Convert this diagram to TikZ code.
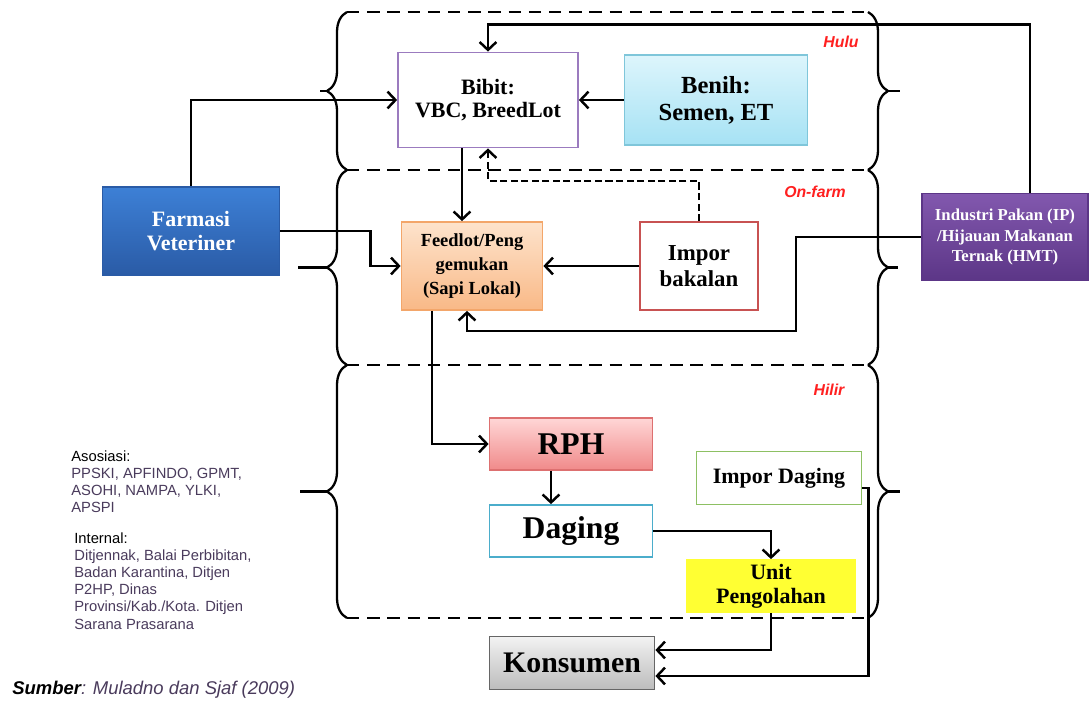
\documentclass[tikz,border=0pt]{standalone}
\usepackage{fontspec}
\setmainfont{Liberation Serif}
\setsansfont{Liberation Sans}
\usetikzlibrary{arrows.meta,decorations.pathreplacing}

\definecolor{bibitline}{HTML}{9B7BBF}
\definecolor{benihtop}{HTML}{DDF5FC}
\definecolor{benihbot}{HTML}{A6E2F4}
\definecolor{benihline}{HTML}{7FC6DA}
\definecolor{farmtop}{HTML}{3D80D6}
\definecolor{farmbot}{HTML}{2A5BA6}
\definecolor{feedtop}{HTML}{FDE3CC}
\definecolor{feedbot}{HTML}{F9B987}
\definecolor{feedline}{HTML}{F3A66A}
\definecolor{imporline}{HTML}{C85252}
\definecolor{indtop}{HTML}{8258AE}
\definecolor{indbot}{HTML}{5C3687}
\definecolor{rphtop}{HTML}{FFD6D6}
\definecolor{rphbot}{HTML}{F08A8A}
\definecolor{rphline}{HTML}{DD7070}
\definecolor{dagingline}{HTML}{4BADCB}
\definecolor{impdline}{HTML}{8DC063}
\definecolor{unitfill}{HTML}{FFFF33}
\definecolor{konstop}{HTML}{F2F2F2}
\definecolor{konsbot}{HTML}{BDBDBD}
\definecolor{zonered}{HTML}{FF2020}
\definecolor{listtext}{HTML}{4A3B5C}

\begin{document}
\begin{tikzpicture}[x=0.02cm,y=-0.02cm,
    box/.style={draw,line width=1pt,align=center,inner sep=2pt},
    arr/.style={line width=1.4pt,-{Straight Barb[length=4.5pt,width=9.5pt]}},
    darr/.style={arr,dash pattern=on 4pt off 2pt},
    frame/.style={line width=1.2pt,dash pattern=on 7pt off 4.5pt},
    bracel/.style={line width=1.3pt,decorate,decoration={brace,amplitude=0.4cm}},
    zone/.style={font=\sffamily\bfseries\itshape\fontsize{9}{10}\selectfont,text=zonered}]

  \path[fill=white,use as bounding box] (0,0) rectangle (1089,702);

  % zones
  \draw[frame] (347,12) -- (868,12);
  \draw[frame] (347,170) -- (868,170);
  \draw[frame] (347,365) -- (868,365);
  \draw[frame] (347,618) -- (868,618);
  \draw[bracel] (347,170) -- (347,12);
  \draw[bracel] (347,365) -- (347,170);
  \draw[bracel] (347,618) -- (347,365);
  \draw[bracel] (868,12) -- (868,170);
  \draw[bracel] (868,170) -- (868,365);
  \draw[bracel] (868,365) -- (868,618);
  \draw[line width=1.3pt] (327,91) -- (320,91) (327,267.5) -- (298,267.5) (327,491.5) -- (300,491.5);
  \draw[line width=1.3pt] (888,91) -- (900,91) (888,267.5) -- (898,267.5) (888,491.5) -- (900,491.5);
  \node[zone] (hulu) at (841,42) {Hulu};
  \node[zone] (onfarm) at (815,192) {On-farm};
  \node[zone] (hilir) at (829,390) {Hilir};

  % boxes
  \node[box,draw=bibitline,fill=white,minimum width=3.6cm,minimum height=1.9cm,
        font=\fontsize{12.5}{13.5}\selectfont\bfseries] (bibit) at (488,100) {Bibit:\\VBC, BreedLot};
  \node[box,draw=benihline,top color=benihtop,bottom color=benihbot,minimum width=3.66cm,minimum height=1.8cm,
        font=\fontsize{14}{15.5}\selectfont\bfseries] (benih) at (716,100) {Benih:\\Semen, ET};
  \node[box,draw=farmbot,top color=farmtop,bottom color=farmbot,text=white,minimum width=3.54cm,minimum height=1.76cm,
        font=\fontsize{12.5}{14}\selectfont\bfseries] (farmasi) at (191,231) {Farmasi\\Veteriner};
  \node[box,draw=feedline,top color=feedtop,bottom color=feedbot,minimum width=2.82cm,minimum height=1.76cm,
        font=\fontsize{10.5}{13.5}\selectfont\bfseries] (feedlot) at (472,266) {Feedlot/Peng\\gemukan\\(Sapi Lokal)};
  \node[box,draw=imporline,fill=white,minimum width=2.36cm,minimum height=1.76cm,
        font=\fontsize{13}{14.5}\selectfont\bfseries] (impor) at (699,266) {Impor\\bakalan};
  \node[box,draw=indbot,top color=indtop,bottom color=indbot,text=white,minimum width=3.32cm,minimum height=1.74cm,
        font=\fontsize{9.5}{11.5}\selectfont\bfseries] (industri) at (1005,237) {Industri Pakan (IP)\\/Hijauan Makanan\\Ternak (HMT)};
  \node[box,draw=rphline,top color=rphtop,bottom color=rphbot,minimum width=3.26cm,minimum height=1.04cm,
        font=\fontsize{18}{20}\selectfont\bfseries] (rph) at (571,444) {RPH};
  \node[box,draw=dagingline,fill=white,minimum width=3.26cm,minimum height=1.04cm,
        font=\fontsize{18}{20}\selectfont\bfseries] (daging) at (571,531) {Daging};
  \node[box,draw=impdline,fill=white,minimum width=3.3cm,minimum height=1.06cm,
        font=\fontsize{12.5}{14}\selectfont\bfseries] (impordaging) at (779,478) {Impor Daging};
  \node[box,draw=unitfill,fill=unitfill,minimum width=3.36cm,minimum height=1.04cm,
        font=\fontsize{12.5}{13.5}\selectfont\bfseries] (unit) at (771,586) {Unit\\Pengolahan};
  \node[box,draw=gray!80!black,top color=konstop,bottom color=konsbot,minimum width=3.3cm,minimum height=1.06cm,
        font=\fontsize{17}{19}\selectfont\bfseries] (konsumen) at (572,663) {Konsumen};

  % connectors
  \draw[arr] (farmasi.north) |- (bibit.west);
  \draw[arr] (farmasi.east) -- ++(90,0) |- (feedlot.west);
  \draw[arr] (benih.west) -- (bibit.east);
  \draw[arr] ([xshift=-0.52cm]bibit.south) -- ([xshift=-0.52cm]bibit.south |- feedlot.north);
  \draw[darr] (impor.north) -- ++(0,-40) -| (bibit.south);
  \draw[arr] (impor.west) -- (feedlot.east);
  \draw[arr] (industri.west) -- ++(-125,0) -- ++(0,94) -| ([xshift=-0.1cm]feedlot.south);
  \draw[arr] ([xshift=0.5cm]industri.north) -- ++(0,-168) -| (bibit.north);
  \draw[arr] ([xshift=-0.8cm]feedlot.south) |- (rph.west);
  \draw[arr] ([xshift=-0.4cm]rph.south) -- ([xshift=-0.4cm]daging.north);
  \draw[arr] (daging.east) -| (unit.north);
  \draw[arr] (unit.south) |- ([yshift=0.26cm]konsumen.east);
  \draw[arr] ([yshift=-0.2cm]impordaging.east) -- ++(6,0) |- ([yshift=-0.26cm]konsumen.east);

  % notes
  \node[anchor=north west,align=left,inner sep=0pt,text=listtext,
        font=\sffamily\fontsize{8.4}{9.8}\selectfont] (asosiasi) at (71,450)
        {\textcolor{black}{Asosiasi:}\\PPSKI, APFINDO, GPMT,\\ASOHI, NAMPA, YLKI,\\APSPI};
  \node[anchor=north west,align=left,inner sep=0pt,text=listtext,
        font=\sffamily\fontsize{8.4}{9.8}\selectfont] (internal) at (74,532)
        {\textcolor{black}{Internal:}\\Ditjennak, Balai Perbibitan,\\Badan Karantina, Ditjen\\P2HP, Dinas\\Provinsi/Kab./Kota. Ditjen\\Sarana Prasarana};
  \node[anchor=west,inner sep=0pt,text=listtext,font=\sffamily\itshape\fontsize{10.5}{12}\selectfont] (sumber) at (12,690)
        {\textcolor{black}{\bfseries Sumber}: Muladno dan Sjaf (2009)};
\end{tikzpicture}
\end{document}
